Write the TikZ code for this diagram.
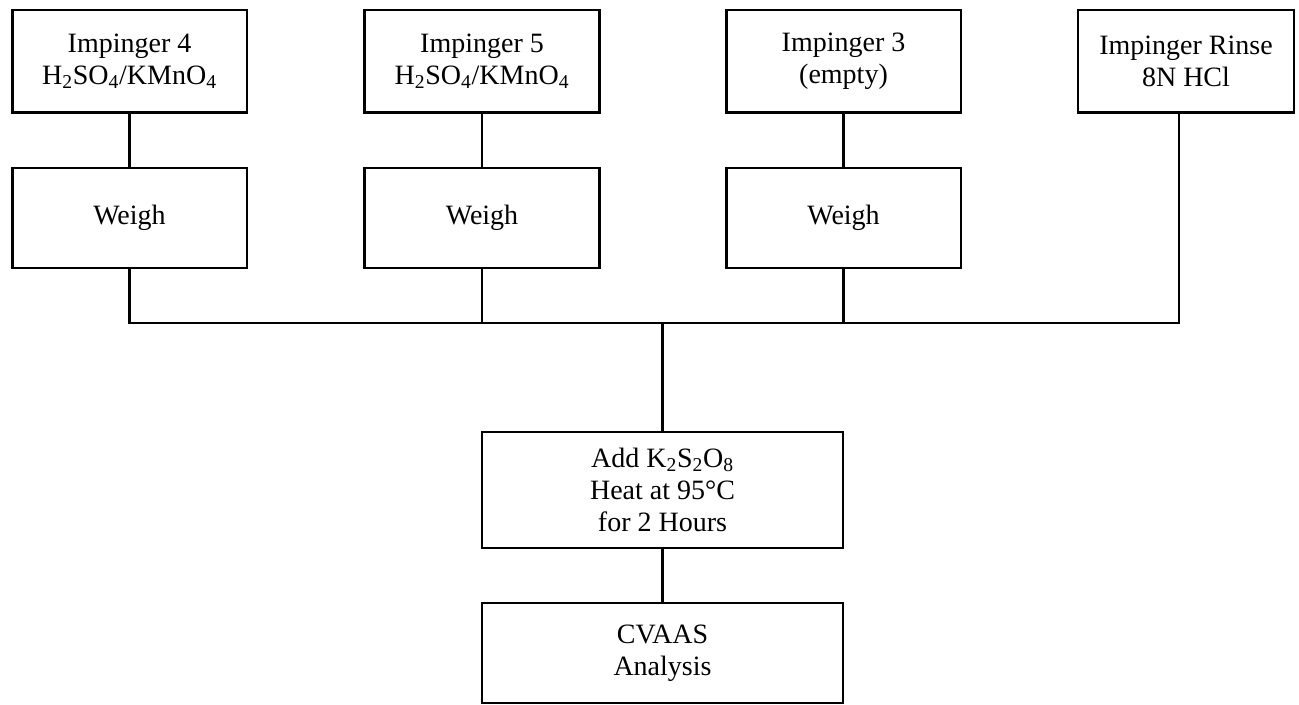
\documentclass[tikz,border=0pt]{standalone}
\usepackage{fontspec}
\setmainfont{Liberation Serif}
\begin{document}
\begin{tikzpicture}[x=0.75pt,y=0.75pt,yscale=-1,xscale=1,
  box/.style={draw,line width=2pt,align=center,inner sep=0.75pt,
    font=\fontsize{21}{24}\selectfont},
  topbox/.style={box,minimum width=176pt,minimum height=77pt},
  weighbox/.style={box,minimum width=176pt,minimum height=75pt},
  wire/.style={line width=2pt}]
\useasboundingbox (0,0) rectangle (1299,705);
\node [topbox] (imp4) at (129.5,61.5) {Impinger 4\\H\textsubscript{2}SO\textsubscript{4}/KMnO\textsubscript{4}};
\node [topbox] (imp5) at (482,61.5) {Impinger 5\\H\textsubscript{2}SO\textsubscript{4}/KMnO\textsubscript{4}};
\node [topbox] (imp3) at (843.5,61.5) {Impinger 3\\(empty)};
\node [topbox,minimum width=162pt] (rinse) at (1186,61.5) {Impinger Rinse\\8N HCl};
\node [weighbox] (w4) at (129.5,218) {Weigh};
\node [weighbox] (w5) at (482,218) {Weigh};
\node [weighbox] (w3) at (843.5,218) {Weigh};
\node [box,minimum width=270.75pt,minimum height=87pt] (add) at (662.5,490) {Add K\textsubscript{2}S\textsubscript{2}O\textsubscript{8}\\Heat at 95°C\\for 2 Hours};
\node [box,minimum width=270.75pt,minimum height=75pt] (cvaas) at (662.5,653) {CVAAS\\Analysis};
\coordinate (bus) at (662.5,323);
\coordinate (rinseout) at ([xshift=-5.25pt]rinse.south);
\draw [wire] (imp4) -- (w4);
\draw [wire] (imp5) -- (w5);
\draw [wire] (imp3) -- (w3);
\draw [wire] (w4.south) |- (bus);
\draw [wire] (rinseout) |- (bus);
\draw [wire] (w5.south) -- (w5.south |- bus);
\draw [wire] (w3.south) -- (w3.south |- bus);
\draw [wire] (bus) -- (add);
\draw [wire] (add) -- (cvaas);
\end{tikzpicture}
\end{document}
